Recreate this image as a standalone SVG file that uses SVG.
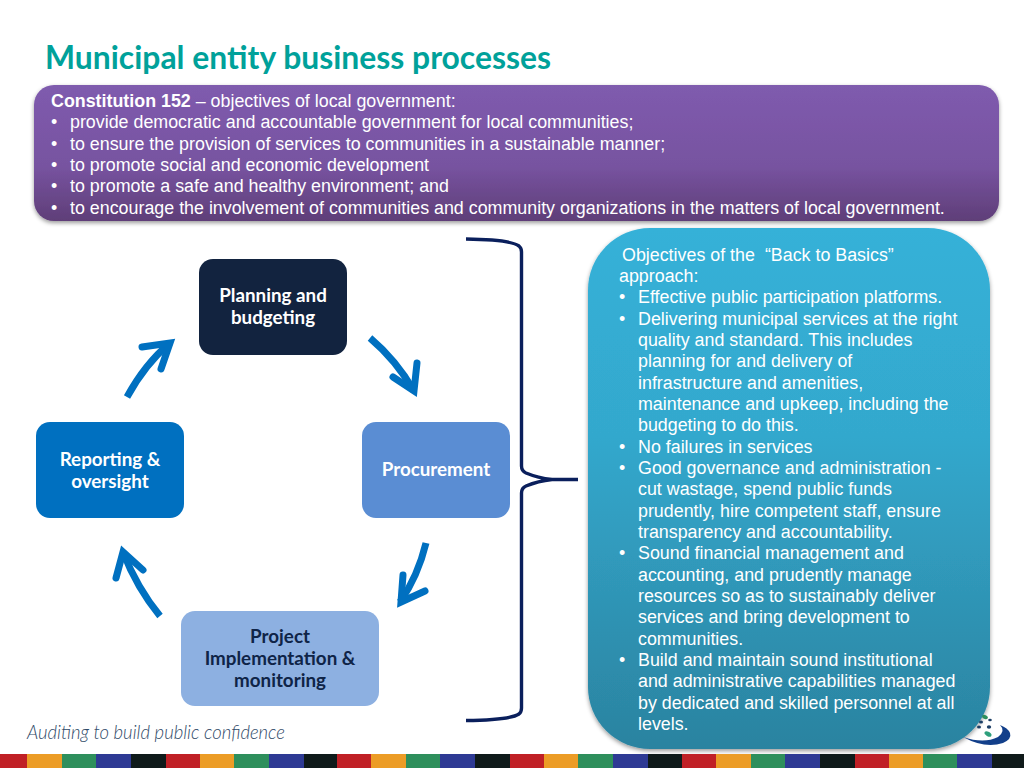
<svg xmlns="http://www.w3.org/2000/svg" width="1024" height="768" viewBox="0 0 1024 768">
<style>
.body{font-family:"Liberation Sans",Arial,sans-serif;font-size:17.85px;fill:#fff}
.node{font-family:"Lato","Open Sans",sans-serif;font-weight:700;font-size:18.8px;fill:#fff;text-anchor:middle}
.dark{fill:#0f2447}
.arr{fill:none;stroke:#0070c0;stroke-width:7}
.head{fill:none;stroke:#0070c0;stroke-width:7;stroke-linecap:round;stroke-linejoin:miter;stroke-miterlimit:8}
.r{fill:#c02026}.o{fill:#ec9c26}.g{fill:#2e8f5c}.b{fill:#2e3a94}.k{fill:#0f1a1a}
</style>
<defs>
<linearGradient id="pg" x1="0" y1="0" x2="0" y2="1"><stop offset="0" stop-color="#7f5bae"/><stop offset="0.6" stop-color="#7753a0"/><stop offset="1" stop-color="#5f3e78"/></linearGradient>
<linearGradient id="bg" x1="0" y1="0" x2="0" y2="1"><stop offset="0" stop-color="#35b1d8"/><stop offset="0.4" stop-color="#33a8cd"/><stop offset="1" stop-color="#2b83a0"/></linearGradient>
<filter id="sh" x="-5%" y="-5%" width="110%" height="112%"><feDropShadow dx="0" dy="2" stdDeviation="2" flood-color="#000" flood-opacity="0.4"/></filter>
</defs>
<rect width="1024" height="768" fill="#fff"/>
<text id="title" x="45" y="69" font-family="Lato,'Open Sans',sans-serif" font-weight="700" font-size="31.5px" fill="#00a19a" textLength="506" lengthAdjust="spacingAndGlyphs">Municipal entity business processes</text>
<g id="constitution">
<rect x="34" y="85" width="965" height="136" rx="20" fill="url(#pg)" filter="url(#sh)"/>
<text class="body" x="51" y="106.500"><tspan font-weight="700">Constitution 152</tspan> – objectives of local government:</text>
<text class="body" x="51" y="128">•</text><text class="body" x="70" y="128">provide democratic and accountable government for local communities;</text>
<text class="body" x="51" y="149.500">•</text><text class="body" x="70" y="149.500">to ensure the provision of services to communities in a sustainable manner;</text>
<text class="body" x="51" y="171">•</text><text class="body" x="70" y="171">to promote social and economic development</text>
<text class="body" x="51" y="192">•</text><text class="body" x="70" y="192">to promote a safe and healthy environment; and</text>
<text class="body" x="51" y="213.500">•</text><text class="body" x="70" y="213.500">to encourage the involvement of communities and community organizations in the matters of local government.</text>
</g>
<g id="planning"><rect x="199" y="259" width="148" height="96" rx="14" fill="#12233f"/><text class="node" x="273" y="301.500">Planning and</text><text class="node" x="273" y="323.500">budgeting</text></g>
<g id="procurement"><rect x="362" y="422" width="148" height="96" rx="14" fill="#5a8dd3"/><text class="node" x="436" y="475.500">Procurement</text></g>
<g id="project"><rect x="181" y="611" width="198" height="95" rx="14" fill="#8db0e1"/><text class="node dark" x="280" y="642.500">Project</text><text class="node dark" x="280" y="664.500">Implementation &amp;</text><text class="node dark" x="280" y="686.500">monitoring</text></g>
<g id="reporting"><rect x="36" y="422" width="148" height="96" rx="14" fill="#0070c0"/><text class="node" x="110" y="465.500">Reporting &amp;</text><text class="node" x="110" y="487.500">oversight</text></g>
<g id="connectors">
<path class="arr" d="M127 397Q145 364 170 343"/><path class="head" d="M142 347L170 343L161 369"/>
<path class="arr" d="M370 338Q396 360 414 391"/><path class="head" d="M417 363L414 391L393 377"/>
<path class="arr" d="M426 543Q418 576 400 602"/><path class="head" d="M403 575L401 602L425 591"/>
<path class="arr" d="M160 616Q137 588 123 552"/><path class="head" d="M116 578L123 552L143 570"/>
<path d="M466 239Q510 239.500 519 246Q521.500 248 521.500 252V466Q521.500 471 526 473Q538 478 552 479.500H578M552 479.500Q538 481 526 486Q521.500 488 521.500 493V708Q521.500 712 519 714Q510 720 466 720.500" fill="none" stroke="#0a1f5c" stroke-width="3.400"/>
</g>
<g id="objectives">
<rect x="588" y="228" width="402" height="521" rx="62" fill="url(#bg)" filter="url(#sh)"/>
<text class="body" x="622" y="260.500">Objectives of the <tspan dx="5">“Back to Basics”</tspan></text>
<text class="body" x="619" y="281.500">approach:</text>
<text class="body" x="619" y="303">•</text><text class="body" x="638" y="303">Effective public participation platforms.</text>
<text class="body" x="619" y="324.500">•</text><text class="body" x="638" y="324.500">Delivering municipal services at the right</text>
<text class="body" x="638" y="345.500">quality and standard. This includes</text>
<text class="body" x="638" y="367">planning for and delivery of</text>
<text class="body" x="638" y="388.500">infrastructure and amenities,</text>
<text class="body" x="638" y="409.500">maintenance and upkeep, including the</text>
<text class="body" x="638" y="431">budgeting to do this.</text>
<text class="body" x="619" y="452.500">•</text><text class="body" x="638" y="452.500">No failures in services</text>
<text class="body" x="619" y="473.500">•</text><text class="body" x="638" y="473.500">Good governance and administration -</text>
<text class="body" x="638" y="495">cut wastage, spend public funds</text>
<text class="body" x="638" y="516.500">prudently, hire competent staff, ensure</text>
<text class="body" x="638" y="537.500">transparency and accountability.</text>
<text class="body" x="619" y="559">•</text><text class="body" x="638" y="559">Sound financial management and</text>
<text class="body" x="638" y="580.500">accounting, and prudently manage</text>
<text class="body" x="638" y="601.500">resources so as to sustainably deliver</text>
<text class="body" x="638" y="623">services and bring development to</text>
<text class="body" x="638" y="644.500">communities.</text>
<text class="body" x="619" y="665.500">•</text><text class="body" x="638" y="665.500">Build and maintain sound institutional</text>
<text class="body" x="638" y="687">and administrative capabilities managed</text>
<text class="body" x="638" y="708.500">by dedicated and skilled personnel at all</text>
<text class="body" x="638" y="730">levels.</text>
</g>
<text id="tagline" x="27" y="739" font-family="Lato,'Open Sans',sans-serif" font-style="italic" font-weight="300" font-size="20px" fill="#2f4a68" textLength="258" lengthAdjust="spacingAndGlyphs">Auditing to build public confidence</text>
<g id="logo">
<path d="M963 737Q985 749 1003 743Q1012 739 1010 733Q1008 728 1000 725Q1006 731 998 737Q984 744 963 737Z" fill="#123f8a"/>
<ellipse cx="985" cy="717" rx="3" ry="2" fill="#2e8f5c" transform="rotate(25 985 717)"/>
<ellipse cx="990" cy="720" rx="1.800" ry="1.300" fill="#1d3f66"/>
<ellipse cx="981" cy="722" rx="2" ry="1.500" fill="#1d3f66"/>
<ellipse cx="979" cy="727" rx="2" ry="1.500" fill="#1d3f66"/>
<ellipse cx="989" cy="727" rx="2.200" ry="1.700" fill="#1d3f66"/>
<ellipse cx="988" cy="734" rx="3.800" ry="2.200" fill="#2e9f7c" transform="rotate(30 988 734)"/>
</g>
<g id="stripe">
<rect class="r" x="0" y="754" width="27" height="14"/><rect class="o" x="27" y="754" width="35" height="14"/><rect class="g" x="62" y="754" width="34" height="14"/><rect class="b" x="96" y="754" width="35" height="14"/><rect class="k" x="131" y="754" width="35" height="14"/>
<rect class="r" x="166" y="754" width="34" height="14"/><rect class="o" x="200" y="754" width="34" height="14"/><rect class="g" x="234" y="754" width="35" height="14"/><rect class="b" x="269" y="754" width="35" height="14"/><rect class="k" x="304" y="754" width="33" height="14"/>
<rect class="r" x="337" y="754" width="34" height="14"/><rect class="o" x="371" y="754" width="35" height="14"/><rect class="g" x="406" y="754" width="34" height="14"/><rect class="b" x="440" y="754" width="35" height="14"/><rect class="k" x="475" y="754" width="35" height="14"/>
<rect class="r" x="510" y="754" width="34" height="14"/><rect class="o" x="544" y="754" width="34" height="14"/><rect class="g" x="578" y="754" width="35" height="14"/><rect class="b" x="613" y="754" width="35" height="14"/><rect class="k" x="648" y="754" width="34" height="14"/>
<rect class="r" x="682" y="754" width="34" height="14"/><rect class="o" x="716" y="754" width="35" height="14"/><rect class="g" x="751" y="754" width="34" height="14"/><rect class="b" x="785" y="754" width="35" height="14"/><rect class="k" x="820" y="754" width="35" height="14"/>
<rect class="r" x="855" y="754" width="34" height="14"/><rect class="o" x="889" y="754" width="34" height="14"/><rect class="g" x="923" y="754" width="34" height="14"/><rect class="b" x="957" y="754" width="35" height="14"/><rect class="k" x="992" y="754" width="32" height="14"/>
</g>
</svg>
